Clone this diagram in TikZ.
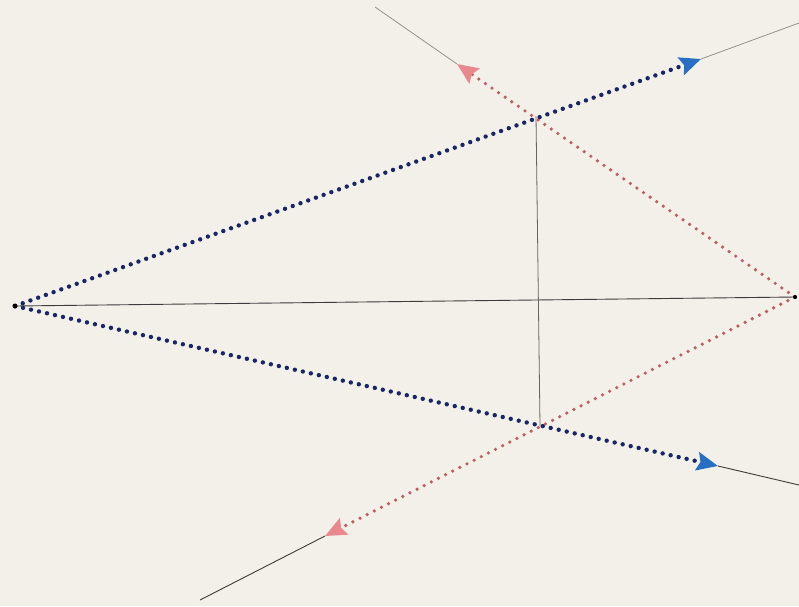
\documentclass[tikz,border=0pt]{standalone}
\usetikzlibrary{arrows.meta}
\definecolor{paper}{RGB}{243,239,233}
\definecolor{navydot}{RGB}{25,38,100}
\definecolor{bluehead}{RGB}{40,110,195}
\definecolor{reddot}{RGB}{185,95,95}
\definecolor{pinkhead}{RGB}{232,135,140}
\definecolor{thinline}{RGB}{60,60,60}
\definecolor{faintline}{RGB}{150,145,140}
\definecolor{midline}{RGB}{100,100,100}
\tikzset{
  thin line/.style={draw=thinline, line width=0.9pt},
  faint line/.style={draw=faintline, line width=0.8pt},
  mid line/.style={draw=midline, line width=0.8pt},
  bluedots/.style={draw=navydot, line width=4.4pt, line cap=round, dash pattern=on 0pt off 8.2pt,
    -{Stealth[length=21pt,width=18pt,inset=3pt,color=bluehead]}},
  reddots/.style={draw=reddot, line width=3.6pt, line cap=round, dash pattern=on 0pt off 8pt,
    -{Stealth[length=21pt,width=18pt,inset=3pt,color=pinkhead]}},
  endpt/.style={circle, fill=black, inner sep=0pt, minimum size=4pt}
}
\begin{document}
\begin{tikzpicture}[x=1pt,y=-1pt]
\fill[paper] (0,0) rectangle (799,606);
\useasboundingbox (0,0) rectangle (799,606);
% points
\node[endpt] (L) at (15,306) {};
\node[endpt] (R) at (795,297) {};
\coordinate (T) at (536,116);
\coordinate (B) at (540,426);
\coordinate (A1) at (701,59);
\coordinate (E1) at (799,23);
\coordinate (A2) at (457,64);
\coordinate (E2) at (375,7);
\coordinate (A3) at (718,466);
\coordinate (E3) at (799,485);
\coordinate (A4) at (325,536);
\coordinate (E4) at (200,600);
% thin lines
\draw[thin line] (L.center) -- (R.center);
\draw[mid line] (T) -- (B);
\draw[faint line] (A1) -- (E1);
\draw[faint line] (A2) -- (E2);
\draw[thin line] (A3) -- (E3);
\draw[thin line] (A4) -- (E4);
% dotted rays
\draw[reddots] (R.center) -- (A2);
\draw[reddots] (R.center) -- (A4);
\draw[bluedots] (L.center) -- (A1);
\draw[bluedots] (L.center) -- (A3);
\fill[black] (L.center) circle (2.5pt);
\fill[black] (R.center) circle (2pt);
\end{tikzpicture}
\end{document}
